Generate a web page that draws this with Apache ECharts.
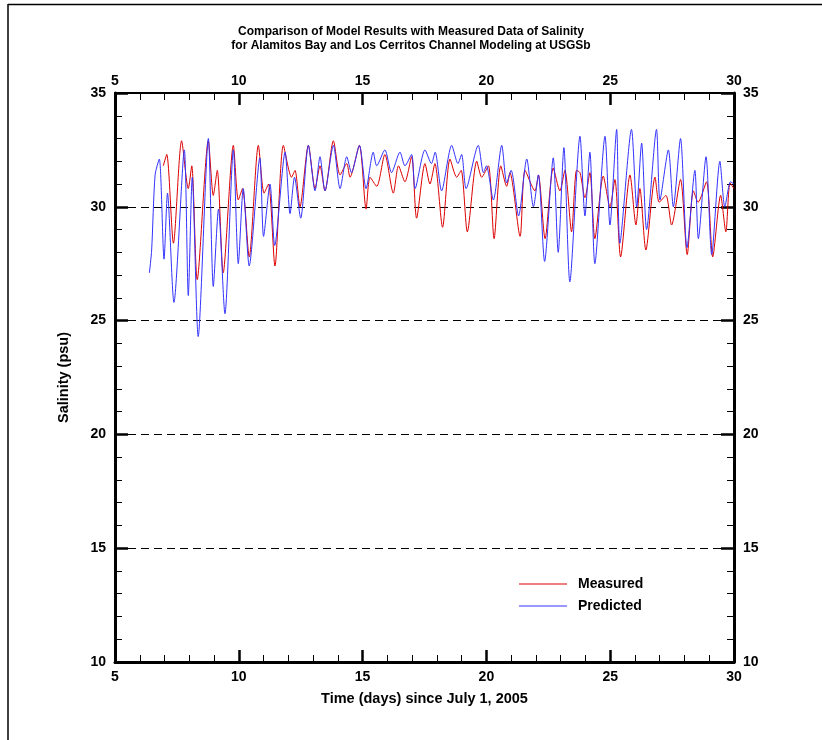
<!DOCTYPE html>
<html>
<head>
<meta charset="utf-8">
<script src="https://cdn.jsdelivr.net/npm/echarts@6/dist/echarts.min.js"></script>
<style>
html,body{margin:0;padding:0;background:#fff;}
#chart{width:822px;height:740px;}
</style>
</head>
<body>
<div id="chart"></div>
<script>
// ---- data ----
const titleLines = ['Comparison of Model Results with Measured Data of Salinity',
                    'for Alamitos Bay and Los Cerritos Channel Modeling at USGSb'];
const xAxisTitle = 'Time (days) since July 1, 2005';
const yAxisTitle = 'Salinity (psu)';
const seriesNames = ['Measured', 'Predicted'];

const measuredDay = [6.95,7.09,7.36,7.69,7.96,8.10,8.32,8.77,8.97,9.13,9.37,9.78,9.98,10.15,10.42,10.79,11.02,11.2,11.46,11.80,
  12.13,12.27,12.47,12.81,13.08,13.28,13.48,13.82,14.09,14.36,14.49,14.87,15.14,15.30,15.57,15.90,16.24,16.45,16.71,16.98,
  17.18,17.52,17.72,17.92,18.23,18.53,18.8,18.98,19.23,19.61,19.81,20.08,20.31,20.58,20.82,20.95,21.36,21.56,21.96,22.1,
  22.37,22.7,22.97,23.17,23.44,23.64,23.78,23.98,24.18,24.38,24.72,24.99,25.19,25.42,25.8,26.04,26.2,26.44,26.81,26.98,
  27.25,27.48,27.84,28.11,28.36,28.55,28.89,29.14,29.46,29.67,29.84,30.0];
const measuredSal = [31.8,32.3,28.4,32.9,30.8,31.8,26.8,32.9,30.5,31.6,27.1,32.7,30.3,30.8,27.8,32.7,30.6,31.0,27.4,32.7,
  31.3,31.6,30.0,32.7,30.8,31.8,30.7,32.9,31.4,31.9,31.3,32.7,29.9,31.3,30.9,32.3,30.6,31.8,31.1,32.2,
  29.5,31.9,31.0,31.9,29.1,32.1,31.3,31.6,28.9,32.0,31.3,31.8,28.6,31.8,30.9,31.5,28.7,31.6,30.7,31.4,
  28.6,31.7,30.7,31.6,28.9,31.6,31.5,30.4,31.5,28.6,31.35,30.0,31.2,27.8,31.4,29.2,30.8,28.1,31.3,30.2,
  30.5,29.2,31.2,27.9,30.7,30.2,31.1,27.8,30.5,28.9,31.05,30.8];

const predictedDay = [6.39,6.48,6.62,6.79,6.98,7.12,7.38,7.80,7.96,8.12,8.36,8.77,8.97,9.18,9.44,9.78,9.98,10.18,10.42,10.85,
  11.0,11.26,11.45,11.87,12.07,12.25,12.5,12.81,13.08,13.28,13.48,13.82,14.09,14.36,14.55,14.87,15.14,15.43,15.57,15.90,
  16.17,16.51,16.71,16.98,17.12,17.52,17.78,17.93,18.19,18.6,18.85,19.0,19.18,19.67,19.88,20.0,20.28,20.62,20.82,21.0,
  21.3,21.63,21.9,22.1,22.35,22.7,22.9,23.13,23.37,23.78,23.98,24.18,24.38,24.79,24.99,25.26,25.39,25.86,26.07,26.27,
  26.47,26.87,27.01,27.35,27.55,27.84,28.1,28.42,28.56,28.87,29.1,29.43,29.63,29.86,30.0];
const predictedSal = [27.1,28.1,31.4,32.1,27.7,30.6,25.8,32.5,26.1,31.3,24.3,33.0,26.5,29.9,25.3,32.5,27.5,30.8,27.4,32.15,
  28.7,31.0,28.3,32.4,29.7,31.3,29.5,32.7,30.7,32.2,30.7,32.7,30.8,32.2,31.5,32.7,30.8,32.4,31.8,32.5,
  31.5,32.4,31.8,32.3,30.8,32.5,31.9,32.4,30.7,32.7,31.9,32.3,30.8,32.7,31.5,31.8,30.3,32.7,31.05,31.6,
  29.6,32.1,30.0,31.4,27.6,32.15,28.0,32.6,26.7,33.1,29.6,32.4,27.5,33.1,29.2,33.4,28.4,33.4,30.0,32.8,
  29.0,33.4,30.3,32.5,30.0,33.0,28.2,31.6,28.6,32.2,27.9,32.0,30.0,31.1,31.0];

const xMin = 5, xMax = 30, xStep = 5;
const yMin = 10, yMax = 35, yStep = 5;

// ---- chart ----
const zip = (a, b) => a.map((v, i) => [v, b[i]]);
const FONT = '"Liberation Sans", Arial, sans-serif';
const chart = echarts.init(document.getElementById('chart'), null, {renderer: 'canvas'});

function xAx(pos, lw, showName, margin) {
  return {
    type: 'value', position: pos, min: xMin, max: xMax, interval: xStep,
    name: showName ? xAxisTitle : '', nameLocation: 'middle', nameGap: 29,
    nameTextStyle: {fontFamily: FONT, fontWeight: 'bold', fontSize: 14.5, color: '#000'},
    axisLine: {show: true, onZero: false, lineStyle: {color: '#000', width: lw}},
    axisTick: {show: true, inside: true, length: 12, lineStyle: {color: '#000', width: 2.5}},
    minorTick: {show: true, splitNumber: 5, length: 7, lineStyle: {color: '#000', width: 1}},
    axisLabel: {show: true, margin: margin, fontFamily: FONT, fontWeight: 'bold', fontSize: 14, color: '#000'},
    splitLine: {show: false}
  };
}
function yAx(pos, showName, split) {
  return {
    type: 'value', position: pos, min: yMin, max: yMax, interval: yStep,
    name: showName ? yAxisTitle : '', nameLocation: 'middle', nameGap: 44, nameRotate: 90,
    nameTextStyle: {fontFamily: FONT, fontWeight: 'bold', fontSize: 14.5, color: '#000'},
    axisLine: {show: true, onZero: false, lineStyle: {color: '#000', width: 3}},
    axisTick: {show: true, inside: true, length: 13, lineStyle: {color: '#000', width: 2.5}},
    minorTick: {show: true, splitNumber: 5, length: 7, lineStyle: {color: '#000', width: 1}},
    axisLabel: {show: true, margin: 9, fontFamily: FONT, fontWeight: 'bold', fontSize: 14, color: '#000'},
    splitLine: {show: split, lineStyle: {color: '#000', width: 1, type: [8, 5]}}
  };
}

chart.setOption({
  animation: false,
  backgroundColor: '#fff',
  title: {
    text: titleLines.join('\n'),
    left: 'center', top: 20,
    textStyle: {fontFamily: FONT, fontWeight: 'bold', fontSize: 12, lineHeight: 14, color: '#000'}
  },
  grid: {left: 115, top: 93, width: 619, height: 569, containLabel: false},
  xAxis: [xAx('bottom', 3, true, 8), xAx('top', 2, false, 5)],
  yAxis: [yAx('left', true, true), yAx('right', false, false)],
  legend: {
    orient: 'vertical', left: 519, top: 576, itemGap: 6, padding: 0,
    itemWidth: 48, itemHeight: 1, icon: 'rect',
    data: seriesNames,
    textStyle: {fontFamily: FONT, fontWeight: 'bold', fontSize: 14, lineHeight: 16, color: '#000', padding: [0,0,0,6]}
  },
  graphic: [
    {type: 'line', shape: {x1: 8, y1: 4.5, x2: 822, y2: 4.5}, style: {stroke: '#000', lineWidth: 1.5}, silent: true},
    {type: 'line', shape: {x1: 8, y1: 4, x2: 8, y2: 740}, style: {stroke: '#000', lineWidth: 1.5}, silent: true}
  ],
  series: [
    {name: seriesNames[0], type: 'line', xAxisIndex: 0, yAxisIndex: 0,
     data: zip(measuredDay, measuredSal), symbol: 'none', smooth: 0.25,
     lineStyle: {color: '#dd0000', width: 1}, itemStyle: {color: '#dd0000'}},
    {name: seriesNames[1], type: 'line', xAxisIndex: 0, yAxisIndex: 0,
     data: zip(predictedDay, predictedSal), symbol: 'none', smooth: 0.25,
     lineStyle: {color: '#3333ff', width: 1}, itemStyle: {color: '#3333ff'}}
  ]
});
</script>
</body>
</html>
